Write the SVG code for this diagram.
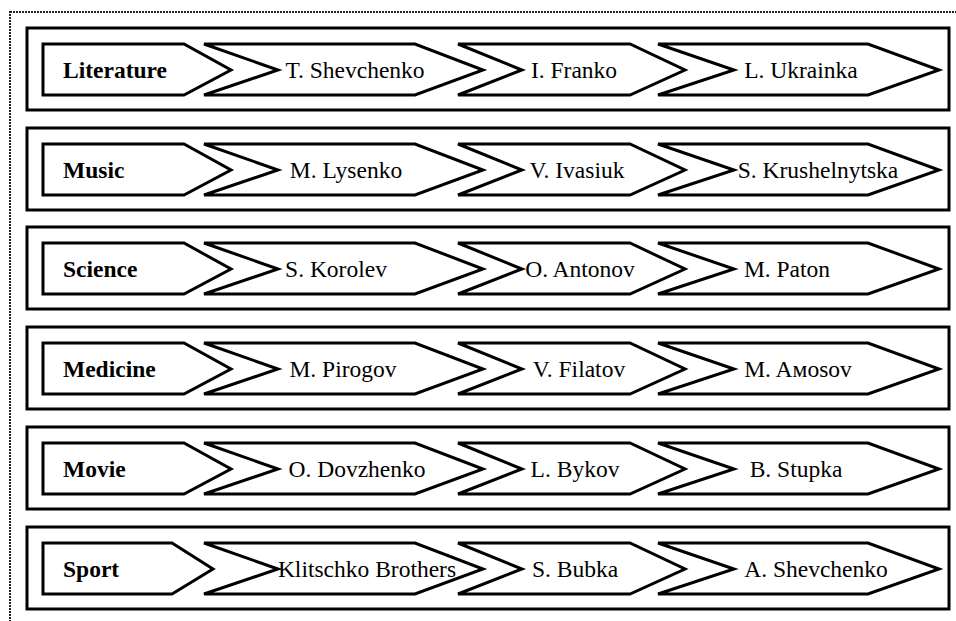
<svg xmlns="http://www.w3.org/2000/svg" xmlns:xlink="http://www.w3.org/1999/xlink" width="956" height="621" viewBox="0 0 956 621">
<style>
.frame{fill:none;stroke:#222;stroke-width:2;stroke-dasharray:2 1}
.row{fill:#fff;stroke:#000;stroke-width:3}
.sh{fill:#fff;stroke:#000;stroke-width:3;stroke-linejoin:miter}
.h{font-family:"Liberation Serif","Times New Roman",serif;font-weight:bold;font-size:23.5px;fill:#000}
.t{font-family:"Liberation Serif","Times New Roman",serif;font-size:23.5px;fill:#000;text-anchor:middle}
</style>
<defs>
<polygon id="pent" class="sh" points="43,16 184,16 231,42 184,67 43,67"/>
<polygon id="ch2" class="sh" points="204,16 415,16 483,42 415,67 204,67 278,42"/>
<polygon id="ch3" class="sh" points="458,16 630,16 685,42 630,67 458,67 522,42"/>
<polygon id="ch4" class="sh" points="658,16 868,16 939,42 868,67 658,67 734,42"/>
</defs>
<rect class="frame" x="10" y="12" width="960" height="620"/>
<g id="connectors"/>

<g id="row-literature" transform="translate(0,28)">
<rect class="row" x="27" y="0" width="922" height="82"/>
<g id="literature"><use href="#pent"/><text class="h" x="63" y="50">Literature</text></g>
<g id="shevchenko-t"><use href="#ch2"/><text class="t" x="355" y="50">T. Shevchenko</text></g>
<g id="franko"><use href="#ch3"/><text class="t" x="574" y="50">I. Franko</text></g>
<g id="ukrainka"><use href="#ch4"/><text class="t" x="801" y="50">L. Ukrainka</text></g>
</g>

<g id="row-music" transform="translate(0,128)">
<rect class="row" x="27" y="0" width="922" height="82"/>
<g id="music"><use href="#pent"/><text class="h" x="63" y="50">Music</text></g>
<g id="lysenko"><use href="#ch2"/><text class="t" x="346" y="50">M. Lysenko</text></g>
<g id="ivasiuk"><use href="#ch3"/><text class="t" x="577" y="50">V. Ivasiuk</text></g>
<g id="krushelnytska"><use href="#ch4"/><text class="t" x="818" y="50">S. Krushelnytska</text></g>
</g>

<g id="row-science" transform="translate(0,227)">
<rect class="row" x="27" y="0" width="922" height="82"/>
<g id="science"><use href="#pent"/><text class="h" x="63" y="50">Science</text></g>
<g id="korolev"><use href="#ch2"/><text class="t" x="336" y="50">S. Korolev</text></g>
<g id="antonov"><use href="#ch3"/><text class="t" x="580" y="50">O. Antonov</text></g>
<g id="paton"><use href="#ch4"/><text class="t" x="787" y="50">M. Paton</text></g>
</g>

<g id="row-medicine" transform="translate(0,327)">
<rect class="row" x="27" y="0" width="922" height="82"/>
<g id="medicine"><use href="#pent"/><text class="h" x="63" y="50">Medicine</text></g>
<g id="pirogov"><use href="#ch2"/><text class="t" x="343" y="50">M. Pirogov</text></g>
<g id="filatov"><use href="#ch3"/><text class="t" x="579" y="50">V. Filatov</text></g>
<g id="amosov"><use href="#ch4"/><text class="t" x="798" y="50">M. Aмosov</text></g>
</g>

<g id="row-movie" transform="translate(0,427)">
<rect class="row" x="27" y="0" width="922" height="82"/>
<g id="movie"><use href="#pent"/><text class="h" x="63" y="50">Movie</text></g>
<g id="dovzhenko"><use href="#ch2"/><text class="t" x="357" y="50">O. Dovzhenko</text></g>
<g id="bykov"><use href="#ch3"/><text class="t" x="575" y="50">L. Bykov</text></g>
<g id="stupka"><use href="#ch4"/><text class="t" x="796" y="50">B. Stupka</text></g>
</g>

<g id="row-sport" transform="translate(0,527)">
<rect class="row" x="27" y="0" width="922" height="82"/>
<g id="sport"><polygon class="sh" points="43,16 172,16 213,42 172,67 43,67"/><text class="h" x="63" y="50">Sport</text></g>
<g id="klitschko"><use href="#ch2"/><text class="t" x="367" y="50">Klitschko Brothers</text></g>
<g id="bubka"><use href="#ch3"/><text class="t" x="575" y="50">S. Bubka</text></g>
<g id="shevchenko-a"><use href="#ch4"/><text class="t" x="816" y="50">A. Shevchenko</text></g>
</g>
</svg>
